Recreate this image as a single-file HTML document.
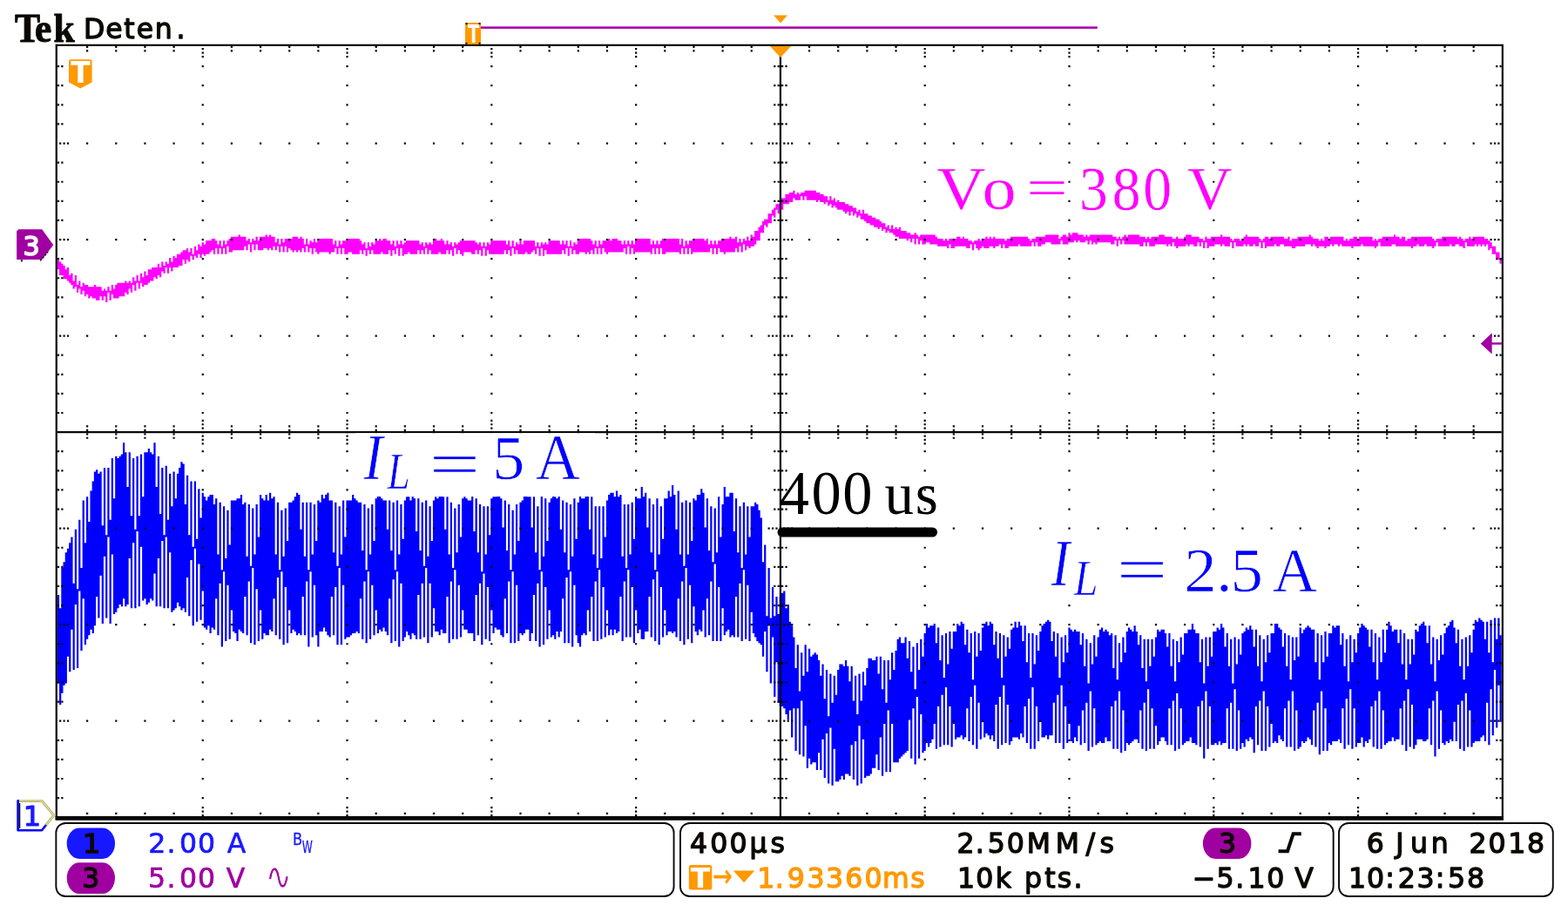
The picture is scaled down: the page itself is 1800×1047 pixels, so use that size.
<!DOCTYPE html>
<html lang="en"><head><meta charset="utf-8"><title>Tek oscilloscope capture</title>
<style>html,body{margin:0;padding:0;background:#fff;overflow:hidden}svg{display:block}text{white-space:pre}</style></head><body>
<svg width="1800" height="1047" viewBox="0 0 1800 1047">
<rect width="1800" height="1047" fill="#fff"/>
<g transform="translate(65.86,52.9) scale(2.2105)">
<path fill="#ff00ff" d="M0 111h1v1h1v1h1v1h1v2h1v-1h1v4h1v-1h1v4h1v-3h1v5h1v-2h1v3h1v-2h1v1h2v1h3v-1h1v1h3v2h1v-1h1v1h1v-2h1v2h1v-3h1v2h1v-2h1v-1h4v-1h1v1h1v-1h1v1h1v-3h1v2h1v-3h1v3h1v-4h1v2h1v-3h1v2h1v-3h2v-1h3v-2h1v2h1v-3h1v2h1v-2h1v1h1v-3h1v2h1v-3h1v1h1v-2h2v-1h1v-1h2v-1h1v2h1v-2h1v3h1v-4h1v2h1v-3h1v1h1v-2h1v1h1v-2h3v-1h2v1h1v2h1v-2h1v3h1v-3h1v2h1v-2h1v-1h1v-1h4v-1h1v1h3v2h1v-1h1v2h1v-2h1v1h1v-2h1v2h1v-2h3v-1h1v1h1v-1h1v1h2v3h1v-2h1v3h1v-3h1v2h1v-2h4v-1h3v1h1v-1h1v1h1v3h1v-3h1v3h1v-2h1v1h1v-2h1v2h1v-1h1v-1h7v3h1v-2h1v3h1v-3h1v2h1v-2h3v-1h6v1h1v2h1v-1h1v3h1v-3h1v2h1v-2h1v1h1v-2h2v-1h1v1h1v-1h2v1h2v2h1v-2h1v3h1v-3h1v2h1v-2h1v2h1v-1h1v-1h7v2h1v-1h1v2h1v-2h1v1h1v-1h1v1h1v-2h1v-1h1v1h2v-1h1v1h1v2h1v-2h1v2h1v-1h1v2h1v-2h1v1h1v-1h1v-1h8v1h1v1h1v-1h1v2h1v-2h1v2h1v-2h1v1h1v-2h8v2h1v-2h1v3h1v-3h1v3h1v-2h1v1h1v-2h1v2h1v-2h6v3h1v-2h1v2h1v-2h1v1h1v-1h1v1h1v-2h6v2h1v-2h1v2h1v-2h1v3h1v-3h1v3h1v-2h1v1h1v-2h1v-1h6v1h1v2h1v-2h1v3h1v-3h1v2h1v-2h3v-1h1v1h1v-1h3v1h2v2h1v-2h1v2h1v-2h1v2h1v-2h1v2h1v-3h8v3h1v-2h1v2h1v-2h1v2h1v-2h1v-1h1v1h1v-1h7v3h1v-3h1v4h1v-3h1v2h1v-2h2v-1h6v1h1v-1h1v3h1v-2h1v2h1v-2h1v2h1v-2h2v-1h4v-1h1v1h2v-1h1v3h1v-2h1v2h1v-2h1v1h1v-2h1v2h1v-3h1v1h1v-3h2v-2h1v-1h1v-2h1v-1h2v-3h2v-2h1v-1h1v-2h2v-2h1v-1h2v-2h2v-1h2v-1h1v2h1v-1h1v1h1v-1h2v-1h6v1h2v1h2v1h2v2h1v-2h1v2h1v-1h1v2h1v-1h1v1h3v1h2v1h2v1h2v2h1v-1h1v2h1v-2h1v2h2v1h2v1h2v1h2v1h1v1h2v2h1v-1h1v2h1v-2h1v2h1v-1h1v1h1v-1h1v2h3v1h2v1h2v-1h1v1h1v1h1v-1h8v1h1v1h3v1h1v-1h1v1h1v-1h4v-1h2v1h1v-1h1v1h2v1h2v1h1v-1h2v-1h1v1h1v-1h2v-1h1v1h1v-1h1v1h1v-1h1v1h5v1h1v-1h2v-1h9v1h1v1h1v-1h2v-1h5v-1h7v2h1v-1h1v-1h2v1h1v-2h1v1h1v-1h3v1h3v1h1v-1h1v1h1v-1h12v1h2v1h1v-1h1v1h1v-1h1v-1h1v1h1v-1h6v1h3v1h1v-1h1v1h1v-1h4v-1h3v1h4v1h2v-1h1v1h3v-1h1v-1h3v1h4v1h2v1h1v-2h1v1h2v-1h5v-1h1v1h4v1h1v1h1v-1h3v1h1v-1h1v-1h1v-1h1v1h6v1h1v1h1v-1h1v-1h2v1h1v-1h7v1h2v-1h1v2h1v-1h3v-1h6v-1h1v1h1v1h3v1h1v-1h1v1h1v-2h2v1h1v-1h7v2h1v-1h1v1h1v-1h2v-1h2v1h1v-1h7v2h1v-1h1v1h1v-1h2v-1h6v-1h1v1h2v1h1v-1h2v2h1v-1h2v-1h11v1h1v1h1v-1h3v-1h8v1h1v-1h1v1h1v1h1v-1h2v-1h1v1h1v-1h6v1h2v1h1v1h1v2h2v3h2v3h1V113h-1v-2h-1v-1h-1v-2h-2v-3h-1v1h-1v-3h-1v1h-1v-1h-1v1h-1v-1h-1v1h-1v-1h-1v1h-4v-2h-1v3h-1v-1h-2v-1h-2v1h-2v-1h-1v1h-6v-2h-1v2h-1v1h-1v-1h-3v-1h-1v1h-3v-1h-1v1h-2v1h-1v-1h-8v-1h-2v1h-6v-2h-1v2h-1v1h-1v-1h-6v-1h-1v1h-4v1h-1v-1h-5v-1h-1v1h-1v-1h-2v1h-1v-1h-1v1h-2v1h-1v-1h-3v1h-1v-1h-1v-1h-1v1h-1v-1h-3v1h-5v1h-2v-1h-4v-1h-2v1h-2v-1h-1v1h-4v1h-1v-3h-1v3h-1v-3h-1v2h-2v-1h-1v1h-2v-1h-1v1h-1v-1h-1v1h-4v-2h-1v3h-1v-3h-1v2h-3v-1h-1v1h-1v-1h-3v1h-3v1h-1v-3h-1v3h-1v-3h-1v2h-1v-2h-1v2h-2v-1h-2v1h-1v-1h-1v1h-4v1h-1v-1h-1v-2h-1v2h-1v-1h-1v1h-1v-1h-6v1h-3v-2h-1v2h-1v-2h-1v2h-2v-1h-8v-2h-1v2h-1v-2h-1v3h-1v-3h-1v2h-2v-1h-7v1h-1v-1h-1v1h-1v-2h-1v2h-1v-2h-1v1h-3v-1h-1v1h-1v-1h-1v1h-3v1h-3v-2h-1v2h-5v-1h-3v1h-2v1h-2v-2h-1v2h-1v-2h-1v2h-6v-1h-1v1h-5v1h-2v-2h-1v2h-1v-2h-1v1h-2v1h-1v-1h-2v1h-3v-1h-1v1h-1v1h-1v-1h-1v-2h-1v3h-1v-3h-1v2h-2v-1h-6v1h-2v-2h-1v2h-1v-1h-5v-1h-4v-1h-2v1h-2v-2h-1v2h-1v-3h-1v3h-1v-3h-1v2h-1v-2h-1v1h-1v-1h-4v-1h-2v-1h-1v-1h-2v-1h-1v1h-1v-2h-1v1h-1v-2h-1v1h-1v-1h-2v-1h-2v-1h-2v-1h-1v-1h-2v-2h-1v1h-1v-2h-1v1h-1v-2h-1v2h-1v-2h-1v1h-1v-1h-1v-1h-3v-1h-1v-1h-1v1h-1v-2h-1v1h-1v-2h-1v1h-1v-1h-2v-1h-1v1h-1v-1h-5v-2h-1v2h-1v-2h-1v2h-3v-1h-1v2h-2v1h-3v3h-1v-1h-1v3h-1v-2h-1v4h-1v-1h-1v4h-2v2h-1v-1h-1v4h-2v4h-2v2h-1v1h-2v1h-1v-1h-1v2h-1v-3h-1v4h-1v-3h-1v3h-1v-2h-1v2h-5v1h-1v-1h-2v-2h-1v3h-1v-3h-1v3h-1v-3h-1v2h-9v1h-1v-3h-1v3h-1v-3h-1v3h-1v-3h-1v3h-1v-1h-7v1h-2v-3h-1v3h-1v-3h-1v3h-1v-3h-1v3h-1v-1h-8v1h-1v-3h-1v3h-1v-4h-1v4h-1v-3h-1v2h-8v1h-1v-1h-1v-2h-1v3h-1v-3h-1v3h-1v-3h-1v3h-1v-2h-1v2h-1v-1h-1v1h-1v-1h-3v1h-2v-2h-1v2h-1v-3h-1v4h-1v-4h-1v3h-1v-2h-1v2h-8v-2h-1v3h-1v-4h-1v4h-1v-4h-1v3h-1v-2h-1v1h-1v1h-2v-1h-1v1h-4v-2h-1v2h-1v-3h-1v4h-1v-3h-1v2h-1v-2h-1v2h-8v-2h-1v3h-1v-4h-1v4h-1v-3h-1v2h-1v-2h-1v2h-2v-1h-4v2h-1v-1h-1v-2h-1v2h-1v-3h-1v4h-1v-3h-1v2h-1v-2h-1v2h-3v-1h-1v1h-4v-2h-1v2h-1v-3h-1v3h-1v-2h-1v2h-1v-2h-1v2h-4v-1h-1v1h-2v1h-1v-4h-1v4h-1v-4h-1v3h-1v-2h-1v3h-1v-3h-1v2h-3v-1h-1v1h-4v-2h-1v2h-1v-2h-1v3h-1v-3h-1v2h-1v-2h-1v2h-4v-1h-2v1h-2v-3h-1v3h-1v-3h-1v3h-1v-3h-1v2h-2v1h-1v-1h-5v1h-1v-1h-1v-2h-1v3h-1v-3h-1v2h-1v-3h-1v3h-1v-2h-1v2h-1v-1h-1v1h-1v-1h-1v1h-1v-1h-1v-1h-1v2h-1v-3h-1v3h-1v-3h-1v3h-1v-3h-1v2h-1v-2h-1v2h-1v-1h-1v1h-1v-1h-2v1h-3v-3h-1v3h-1v-3h-1v4h-1v-4h-1v3h-1v-2h-1v2h-6v1h-2v-3h-1v4h-1v-3h-1v3h-1v-3h-1v3h-1v-3h-1v3h-1v-2h-1v1h-1v1h-2v1h-1v-1h-1v2h-1v-2h-1v2h-1v-1h-1v2h-1v-2h-1v3h-1v-1h-1v2h-1v-2h-1v3h-2v1h-3v2h-1v-2h-1v3h-1v-3h-1v3h-1v-1h-1v3h-1v-1h-1v2h-1v-1h-1v2h-2v1h-1v1h-2v1h-1v-2h-1v3h-1v-3h-1v4h-1v-3h-1v4h-1v-2h-1v3h-1v-1h-1v2h-3v1h-3v-2h-1v3h-1v-4h-1v5h-1v-3h-1v2h-1v-2h-1v2h-2v-1h-2v-1h-1v1h-1v-2h-1v1h-1v-3h-1v2h-1v-3h-1v2h-1v-3h-1v1h-1v-2h-1v-1h-1v-1h-1v-1h-2v-2h-2v-3h-1z"/>
<path fill="#0000ff" d="M0 285h1v7h1v-21h1v-3h1v-5h1v-2h1v-3h1v-3h1v24h1v-28h1v31h1v-36h1v25h1v-35h1v22h1v-24h1v13h1v-16h1v-5h1v-5h1v-1h1v2h1v-1h1v28h1v-30h1v35h1v-35h1v27h1v-32h1v21h1v-22h1v1h1v-1h1v-1h1v-6h1v5h1v18h1v-18h1v33h1v-30h1v37h1v-38h1v31h1v-32h1v22h1v-23h2v-2h1v2h1v1h1v-6h1v23h1v-16h1v30h1v-24h1v35h1v-36h1v28h1v-24h1v17h1v-18h1v14h1v-13h1v-3h1v-3h1v1h1v21h1v-15h1v31h1v-28h1v34h1v-34h1v30h1v-26h1v15h1v-13h1v2h1v2h1v-2h1v-1h2v5h1v-3h1v29h1v-27h1v35h1v-33h1v27h1v-25h1v18h1v-23h3v-1h2v-2h1v5h1v-1h1v28h1v-27h1v32h1v-30h1v24h1v-26h1v17h1v-22h1v2h1v1h1v-3h1v3h1v-4h1v3h1v-1h1v30h1v-27h1v35h1v-31h1v24h1v-25h1v17h1v-20h2v-1h1v-2h1v-2h1v1h1v18h1v-14h1v28h1v-28h1v35h1v-35h1v27h1v-26h1v19h1v-21h1v1h1v-4h1v2h1v-2h1v-1h1v4h2v27h1v-26h1v33h1v-31h1v25h1v-28h1v19h1v-19h3v-3h1v2h1v1h1v1h2v25h1v-24h1v34h1v-32h1v24h1v-26h1v19h1v-22h1v-2h2v2h1v1h2v15h1v-15h1v26h1v-25h1v35h1v-36h1v28h1v-26h1v18h1v-20h1v-2h2v2h1v-3h1v2h1v17h1v-17h1v27h1v-25h1v33h1v-34h1v29h1v-26h1v18h1v-21h1v-2h1v1h1v-3h1v1h1v1h1v17h1v-17h1v30h1v-27h1v34h1v-31h1v23h1v-25h1v17h1v-20h1v-1h1v1h1v1h2v-3h1v19h1v-17h1v28h1v-25h1v35h1v-34h1v25h1v-25h1v15h1v-19h1v-1h2v-3h2v4h1v15h1v-14h1v26h1v-24h1v34h1v-31h1v23h1v-26h1v19h1v-20h1v-1h1v-4h2v2h2v16h1v-16h1v29h1v-24h1v33h1v-40h1v33h1v-30h1v22h1v-20h1v-2h1v-3h1v2h1v1h1v-2h1v18h1v-15h1v27h1v-26h1v35h1v-34h1v27h1v-30h1v21h1v-19h1v-4h1v2h2v-5h1v3h1v18h1v-17h1v30h1v-25h1v32h1v-32h1v27h1v-27h1v16h1v-19h1v-3h1v-1h2v2h1v-3h1v3h1v-1h1v32h1v-27h1v33h1v-33h1v26h1v-27h1v19h1v-22h1v1h2v-6h1v5h1v-2h1v18h1v-15h1v28h1v-25h1v34h1v-37h1v29h1v-25h1v17h1v-21h2v-4h1v3h1v-6h1v5h1v18h1v-20h1v33h1v-27h1v33h1v-34h1v28h1v-27h1v20h1v-22h1v1h1v-3h2v-3h1v2h1v18h1v-15h1v27h1v-23h1v29h1v-28h1v23h1v-29h1v21h1v-17h1v-9h1v5h2v-2h2v20h1v-17h1v28h1v-24h1v32h1v-34h1v27h1v-25h1v16h1v-16h2v-2h1v1h1v3h1v4h1v23h1v-9h1v37h1v-25h1v26h1v-16h1v15h1v-10h1v9h1v-9h1v-2h1v-1h1v9h1v-2h1v9h1v2h1v6h1v16h1v-12h1v24h1v-20h1v12h1v-16h1v14h1v-12h1v4h1v-1h1v-1h1v1h1v3h1v8h1v-6h1v18h1v-15h1v24h1v-22h1v15h1v-14h1v10h1v-13h1v-3h2v1h1v-3h1v3h1v8h1v-8h1v18h1v-13h1v20h1v-21h1v14h1v-15h1v7h1v-9h1v-5h2v1h2v-2h1v9h1v-9h1v17h1v-15h1v22h1v-22h1v10h1v-14h1v9h1v-10h1v-6h1v-1h1v3h2v-3h1v11h1v-9h1v16h1v-13h1v22h1v-24h1v14h1v-16h1v9h1v-12h1v-5h1v2h1v-1h2v-1h1v10h1v-8h1v17h1v-13h1v22h1v-23h1v16h1v-17h1v9h1v-9h2v-4h1v1h1v-2h1v1h1v11h1v-8h1v12h1v-10h1v24h1v-25h1v13h1v-12h1v9h1v-12h1v-2h1v-1h1v2h1v-2h1v1h1v11h1v-7h1v14h1v-13h1v23h1v-22h1v11h1v-10h1v6h1v-10h1v-1h1v-3h1v3h1v-3h1v2h1v8h1v-8h1v19h1v-15h1v23h1v-23h1v16h1v-15h1v8h1v-10h1v-3h1v-1h1v-1h1v-1h1v1h1v10h1v-5h1v13h1v-12h1v23h1v-21h1v13h1v-14h1v9h1v-13h1v1h1v1h1v-1h1v1h2v7h1v-6h1v17h1v-14h1v23h1v-21h1v11h1v-15h1v11h1v-10h1v-4h1v-1h1v2h1v-1h1v1h1v2h1v-1h1v18h1v-17h1v23h1v-19h1v10h1v-13h1v8h1v-11h1v-2h1v1h1v1h1v-3h1v3h1v7h1v-5h1v17h1v-15h1v22h1v-22h1v14h1v-14h1v9h1v-10h1v-4h1v1h1v-1h2v2h1v7h1v-7h1v17h1v-14h1v22h1v-21h1v11h1v-13h1v9h1v-11h2v-2h2v-3h1v3h1v2h2v15h1v-12h1v23h1v-24h1v15h1v-15h1v10h1v-13h2v-2h1v1h1v-3h1v2h1v10h1v-7h1v17h1v-14h1v23h1v-24h1v14h1v-13h1v8h1v-11h1v-1h1v-2h1v1h1v-2h1v2h1v9h1v-9h1v19h1v-16h1v24h1v-22h1v12h1v-14h1v9h1v-10h2v-5h2v2h1v1h1v9h1v-7h1v17h1v-16h1v23h1v-22h1v12h1v-12h1v10h1v-15h1v3h1v-2h1v-1h1v-1h1v1h1v1h2v17h1v-15h1v24h1v-23h1v14h1v-16h1v13h1v-12h2v-4h1v1h1v-1h2v10h1v-6h1v17h1v-14h1v22h1v-24h1v14h1v-12h1v7h1v-10h1v-3h1v-2h1v1h1v1h1v1h1v9h1v-9h1v17h1v-15h1v24h1v-22h1v13h1v-17h1v12h1v-12h1v-4h1v2h1v3h1v-1h2v7h1v-7h1v18h1v-16h1v24h1v-21h1v13h1v-13h1v8h1v-13h1v1h1v-3h1v-1h1v-1h1v2h1v9h1v-9h1v20h1v-14h1v23h1v-22h1v11h1v-13h1v10h1v-11h1v-3h1v-1h1v-2h1v-1h1v4h1v8h1v-7h1v19h1v-14h1v21h1v-22h1v15h1v-16h1v9h1v-12h1v-5h1v1h1v-2h1v1h1v1h1v9h1v-9h1v16h1v-17h1v22h1v-23h1v11h1v-11h1v9h1V351h-1v-19h-1v22h-1v-30h-1v34h-1v-24h-1v29h-1v-22h-1v20h-1v-3h-1v1h-1v2h-3v1h-1v2h-1v-19h-1v19h-1v-28h-1v30h-1v-26h-1v25h-1v-23h-1v19h-1v-10h-1v10h-1v-1h-1v2h-1v-1h-1v2h-1v-1h-1v-17h-1v20h-1v-30h-1v34h-1v-29h-1v23h-1v-19h-1v16h-1v1h-2v-1h-3v3h-1v2h-1v-23h-1v22h-1v-30h-1v32h-1v-26h-1v23h-1v-19h-1v16h-2v1h-1v-2h-1v2h-2v1h-1v1h-1v-18h-1v20h-1v-30h-1v30h-1v-25h-1v24h-1v-21h-1v17h-1v2h-1v-1h-1v3h-1v-5h-1v3h-2v2h-1v-20h-1v21h-1v-31h-1v29h-1v-24h-1v26h-1v-21h-1v18h-1v-2h-1v1h-3v2h-1v-1h-1v4h-1v-22h-1v22h-1v-31h-1v33h-1v-27h-1v23h-1v-19h-1v18h-1v-3h-1v-1h-1v2h-1v1h-1v-1h-1v3h-1v1h-1v-20h-1v21h-1v-31h-1v29h-1v-24h-1v24h-1v-20h-1v17h-1v-1h-1v-2h-1v4h-1v-1h-1v1h-1v-10h-1v12h-1v-21h-1v23h-1v-31h-1v31h-1v-26h-1v23h-1v-20h-1v24h-1v-7h-1v-1h-1v2h-1v-1h-1v4h-1v-2h-1v3h-1v-20h-1v21h-1v-32h-1v31h-1v-24h-1v24h-1v-21h-1v18h-2v1h-1v-2h-1v2h-1v-1h-1v1h-2v-20h-1v22h-1v-30h-1v35h-1v-30h-1v24h-1v-21h-1v20h-1v-1h-2v-3h-1v2h-2v1h-1v1h-1v-19h-1v21h-1v-29h-1v30h-1v-26h-1v23h-1v-19h-1v19h-1v-2h-1v-2h-2v2h-1v2h-1v-10h-1v12h-1v-21h-1v21h-1v-31h-1v32h-1v-25h-1v24h-1v-20h-1v17h-1v-2h-2v1h-1v1h-1v1h-1v-1h-1v4h-1v-21h-1v22h-1v-32h-1v30h-1v-25h-1v25h-1v-22h-1v18h-2v-2h-1v3h-2v-1h-1v1h-1v1h-1v-19h-1v20h-1v-29h-1v31h-1v-25h-1v21h-1v-17h-1v18h-1v-10h-1v8h-1v-2h-1v3h-1v-1h-1v-9h-1v10h-1v-19h-1v22h-1v-33h-1v30h-1v-25h-1v25h-1v-21h-1v17h-2v2h-1v-2h-1v1h-2v-8h-1v10h-1v-18h-1v22h-1v-32h-1v32h-1v-26h-1v23h-1v-19h-1v16h-1v-2h-1v3h-1v-1h-3v2h-1v2h-1v-21h-1v20h-1v-30h-1v31h-1v-25h-1v27h-1v-23h-1v19h-1v-3h-1v2h-1v-2h-1v-1h-1v2h-1v-8h-1v9h-1v-19h-1v24h-1v-33h-1v31h-1v-25h-1v23h-1v-17h-1v15h-1v1h-1v-2h-1v1h-2v1h-1v-8h-1v12h-1v-21h-1v20h-1v-30h-1v30h-1v-26h-1v27h-1v-21h-1v22h-1v-13h-1v8h-1v2h-1v2h-1v-2h-1v4h-1v1h-1v-20h-1v23h-1v-32h-1v35h-1v-29h-1v26h-1v-20h-1v16h-1v1h-1v1h-1v1h-1v1h-1v2h-3v-20h-1v25h-1v-32h-1v32h-1v-25h-1v27h-1v-20h-1v17h-1v-8h-1v7h-2v3h-1v1h-2v1h-1v-20h-1v23h-1v-30h-1v31h-1v-23h-1v20h-1v-18h-1v16h-1v-1h-2v3h-1v-2h-1v2h-1v1h-2v-17h-1v19h-1v-30h-1v29h-1v-26h-1v23h-1v-20h-1v16h-1v-9h-1v9h-1v-4h-2v1h-1v-3h-1v5h-1v-22h-1v16h-1v-29h-1v28h-1v-24h-1v22h-1v-22h-1v15h-1v-14h-1v5h-1v-3h-1v-3h-1v-1h-2v-2h-1v-21h-1v18h-1v-31h-1v24h-1v-30h-1v24h-1v-21h-1v13h-1v-6h-1v-1h-1v-1h-1v-2h-1v-2h-1v-11h-1v15h-1v-29h-1v28h-1v-36h-1v37h-1v-30h-1v28h-1v-21h-1v21h-1v-1h-1v1h-1v-4h-1v1h-1v2h-1v-14h-1v17h-1v-28h-1v28h-1v-40h-1v40h-1v-31h-1v28h-1v-19h-1v20h-1v-14h-1v11h-1v-1h-1v3h-1v-2h-1v-13h-1v19h-1v-30h-1v28h-1v-37h-1v40h-1v-33h-1v31h-1v-22h-1v20h-1v-3h-1v1h-1v-1h-2v2h-1v-13h-1v14h-1v-26h-1v30h-1v-38h-1v36h-1v-32h-1v30h-1v-21h-1v18h-2v4h-2v-5h-1v2h-1v-12h-1v17h-1v-29h-1v26h-1v-35h-1v35h-1v-29h-1v31h-1v-23h-1v18h-1v1h-1v-2h-1v3h-1v-3h-1v3h-1v-13h-1v14h-1v-26h-1v27h-1v-36h-1v37h-1v-31h-1v31h-1v-23h-1v18h-1v-11h-1v13h-1v-1h-1v1h-1v6h-1v-2h-1v-4h-1v-26h-1v32h-1v-39h-1v37h-1v-34h-1v34h-1v-23h-1v17h-1v3h-1v-3h-1v4h-1v-2h-1v1h-1v-14h-1v15h-1v-27h-1v30h-1v-38h-1v39h-1v-33h-1v30h-1v-24h-1v20h-1v4h-1v-6h-2v2h-1v1h-1v-1h-1v4h-1v-29h-1v30h-1v-37h-1v37h-1v-32h-1v27h-1v-18h-1v20h-1v-1h-1v-3h-2v-1h-1v3h-1v-12h-1v16h-1v-28h-1v27h-1v-34h-1v37h-1v-32h-1v27h-1v-21h-1v24h-1v-4h-3v-2h-2v-10h-1v14h-1v-27h-1v28h-1v-36h-1v36h-1v-30h-1v32h-1v-24h-1v19h-2v-2h-1v3h-1v-2h-2v-12h-1v15h-1v-28h-1v31h-1v-39h-1v36h-1v-28h-1v29h-1v-23h-1v23h-1v-2h-1v-1h-1v3h-1v-2h-1v-2h-1v3h-1v2h-1v-30h-1v33h-1v-39h-1v36h-1v-32h-1v33h-1v-23h-1v19h-1v-2h-1v-2h-1v2h-1v-1h-1v2h-1v-12h-1v13h-1v-26h-1v28h-1v-35h-1v37h-1v-32h-1v30h-1v-21h-1v18h-1v-1h-1v1h-2v1h-1v1h-2v1h-1v-28h-1v31h-1v-40h-1v40h-1v-30h-1v25h-1v-20h-1v21h-1v-1h-1v-2h-1v-2h-1v2h-2v8h-1v-6h-1v-26h-1v27h-1v-34h-1v39h-1v-34h-1v28h-1v-20h-1v20h-1v-1h-1v1h-1v-2h-1v-1h-1v2h-1v-12h-1v17h-1v-29h-1v30h-1v-38h-1v35h-1v-32h-1v30h-1v-19h-1v17h-1v-1h-1v3h-2v-1h-1v3h-1v-15h-1v16h-1v-27h-1v29h-1v-40h-1v39h-1v-32h-1v28h-1v-20h-1v19h-1v-1h-1v-1h-1v6h-1v-4h-1v-1h-1v-11h-1v15h-1v-28h-1v29h-1v-36h-1v39h-1v-33h-1v27h-1v-19h-1v16h-1v-1h-1v3h-1v-4h-1v2h-1v-1h-1v-19h-1v15h-1v-29h-1v30h-1v-38h-1v40h-1v-34h-1v29h-1v-20h-1v18h-1v-2h-1v1h-1v-2h-1v-2h-1v3h-1v1h-1v1h-1v-31h-1v29h-1v-37h-1v37h-1v-35h-1v34h-1v-25h-1v25h-1v-17h-1v14h-1v-1h-1v2h-1v1h-1v-3h-1v1h-1v-28h-1v31h-1v-39h-1v40h-1v-34h-1v34h-1v-26h-1v24h-1v1h-1v-4h-1v4h-1v-1h-1v2h-1v2h-1v1h-1v-31h-1v36h-1v-45h-1v42h-1v-32h-1v35h-1v-25h-1v22h-1v-11h-1v15h-1v4h-1v-2h-1v3h-1v2h-1v3h-1v-24h-1v27h-1v-31h-1v40h-1v-33h-1v34h-1v-21h-1v22h-1v-8h-1v14h-1v1h-1v4h-1v6h-1v-11h-1z"/>
<path fill="#080808" d="M-1 -1h752v403h-752zM0 0v400h750v-400z" fill-rule="evenodd"/>
<rect x="-1" y="400" width="752" height="2" fill="#080808"/>
<rect x="375" y="0" width="1" height="400" fill="#080808"/>
<rect x="0" y="200" width="750" height="1" fill="#080808"/>
<path fill="#080808" d="M0 10h1v1h-1zM0 20h1v1h-1zM0 30h1v1h-1zM0 40h1v1h-1zM0 60h1v1h-1zM0 70h1v1h-1zM0 80h1v1h-1zM0 90h1v1h-1zM0 110h1v1h-1zM0 120h1v1h-1zM0 130h1v1h-1zM0 140h1v1h-1zM0 160h1v1h-1zM0 170h1v1h-1zM0 180h1v1h-1zM0 190h1v1h-1zM0 210h1v1h-1zM0 220h1v1h-1zM0 230h1v1h-1zM0 240h1v1h-1zM0 260h1v1h-1zM0 270h1v1h-1zM0 280h1v1h-1zM0 290h1v1h-1zM0 310h1v1h-1zM0 320h1v1h-1zM0 330h1v1h-1zM0 340h1v1h-1zM0 360h1v1h-1zM0 370h1v1h-1zM0 380h1v1h-1zM0 390h1v1h-1zM1 50h1v1h-1zM1 100h1v1h-1zM1 150h1v1h-1zM1 250h1v1h-1zM1 300h1v1h-1zM1 350h1v1h-1zM2 10h1v1h-1zM2 20h1v1h-1zM2 30h1v1h-1zM2 40h1v1h-1zM2 60h1v1h-1zM2 70h1v1h-1zM2 80h1v1h-1zM2 90h1v1h-1zM2 110h1v1h-1zM2 120h1v1h-1zM2 130h1v1h-1zM2 140h1v1h-1zM2 160h1v1h-1zM2 170h1v1h-1zM2 180h1v1h-1zM2 190h1v1h-1zM2 210h1v1h-1zM2 220h1v1h-1zM2 230h1v1h-1zM2 240h1v1h-1zM2 260h1v1h-1zM2 270h1v1h-1zM2 280h1v1h-1zM2 290h1v1h-1zM2 310h1v1h-1zM2 320h1v1h-1zM2 330h1v1h-1zM2 340h1v1h-1zM2 360h1v1h-1zM2 370h1v1h-1zM2 380h1v1h-1zM2 390h1v1h-1zM3 50h1v1h-1zM3 100h1v1h-1zM3 150h1v1h-1zM3 250h1v1h-1zM3 300h1v1h-1zM3 350h1v1h-1zM5 50h1v1h-1zM5 100h1v1h-1zM5 150h1v1h-1zM5 250h1v1h-1zM5 300h1v1h-1zM5 350h1v1h-1zM15 0h1v1h-1zM15 2h1v1h-1zM15 50h1v1h-1zM15 100h1v1h-1zM15 150h1v1h-1zM15 197h1v1h-1zM15 199h1v1h-1zM15 201h1v1h-1zM15 203h1v1h-1zM15 250h1v1h-1zM15 300h1v1h-1zM15 350h1v1h-1zM15 398h1v1h-1zM15 400h1v1h-1zM30 0h1v1h-1zM30 2h1v1h-1zM30 50h1v1h-1zM30 100h1v1h-1zM30 150h1v1h-1zM30 197h1v1h-1zM30 199h1v1h-1zM30 201h1v1h-1zM30 203h1v1h-1zM30 250h1v1h-1zM30 300h1v1h-1zM30 350h1v1h-1zM30 398h1v1h-1zM30 400h1v1h-1zM45 0h1v1h-1zM45 2h1v1h-1zM45 50h1v1h-1zM45 100h1v1h-1zM45 150h1v1h-1zM45 197h1v1h-1zM45 199h1v1h-1zM45 201h1v1h-1zM45 203h1v1h-1zM45 250h1v1h-1zM45 300h1v1h-1zM45 350h1v1h-1zM45 398h1v1h-1zM45 400h1v1h-1zM60 0h1v1h-1zM60 2h1v1h-1zM60 50h1v1h-1zM60 100h1v1h-1zM60 150h1v1h-1zM60 197h1v1h-1zM60 199h1v1h-1zM60 201h1v1h-1zM60 203h1v1h-1zM60 250h1v1h-1zM60 300h1v1h-1zM60 350h1v1h-1zM60 398h1v1h-1zM60 400h1v1h-1zM75 1h1v1h-1zM75 3h1v1h-1zM75 5h1v1h-1zM75 10h1v1h-1zM75 20h1v1h-1zM75 30h1v1h-1zM75 40h1v1h-1zM75 50h1v1h-1zM75 60h1v1h-1zM75 70h1v1h-1zM75 80h1v1h-1zM75 90h1v1h-1zM75 100h1v1h-1zM75 110h1v1h-1zM75 120h1v1h-1zM75 130h1v1h-1zM75 140h1v1h-1zM75 150h1v1h-1zM75 160h1v1h-1zM75 170h1v1h-1zM75 180h1v1h-1zM75 190h1v1h-1zM75 194h1v1h-1zM75 196h1v1h-1zM75 198h1v1h-1zM75 200h1v1h-1zM75 202h1v1h-1zM75 204h1v1h-1zM75 206h1v1h-1zM75 210h1v1h-1zM75 220h1v1h-1zM75 230h1v1h-1zM75 240h1v1h-1zM75 250h1v1h-1zM75 260h1v1h-1zM75 270h1v1h-1zM75 280h1v1h-1zM75 290h1v1h-1zM75 300h1v1h-1zM75 310h1v1h-1zM75 320h1v1h-1zM75 330h1v1h-1zM75 340h1v1h-1zM75 350h1v1h-1zM75 360h1v1h-1zM75 370h1v1h-1zM75 380h1v1h-1zM75 390h1v1h-1zM75 395h1v1h-1zM75 397h1v1h-1zM75 399h1v1h-1zM90 0h1v1h-1zM90 2h1v1h-1zM90 50h1v1h-1zM90 100h1v1h-1zM90 150h1v1h-1zM90 197h1v1h-1zM90 199h1v1h-1zM90 201h1v1h-1zM90 203h1v1h-1zM90 250h1v1h-1zM90 300h1v1h-1zM90 350h1v1h-1zM90 398h1v1h-1zM90 400h1v1h-1zM105 0h1v1h-1zM105 2h1v1h-1zM105 50h1v1h-1zM105 100h1v1h-1zM105 150h1v1h-1zM105 197h1v1h-1zM105 199h1v1h-1zM105 201h1v1h-1zM105 203h1v1h-1zM105 250h1v1h-1zM105 300h1v1h-1zM105 350h1v1h-1zM105 398h1v1h-1zM105 400h1v1h-1zM120 0h1v1h-1zM120 2h1v1h-1zM120 50h1v1h-1zM120 100h1v1h-1zM120 150h1v1h-1zM120 197h1v1h-1zM120 199h1v1h-1zM120 201h1v1h-1zM120 203h1v1h-1zM120 250h1v1h-1zM120 300h1v1h-1zM120 350h1v1h-1zM120 398h1v1h-1zM120 400h1v1h-1zM135 0h1v1h-1zM135 2h1v1h-1zM135 50h1v1h-1zM135 100h1v1h-1zM135 150h1v1h-1zM135 197h1v1h-1zM135 199h1v1h-1zM135 201h1v1h-1zM135 203h1v1h-1zM135 250h1v1h-1zM135 300h1v1h-1zM135 350h1v1h-1zM135 398h1v1h-1zM135 400h1v1h-1zM150 1h1v1h-1zM150 3h1v1h-1zM150 5h1v1h-1zM150 10h1v1h-1zM150 20h1v1h-1zM150 30h1v1h-1zM150 40h1v1h-1zM150 50h1v1h-1zM150 60h1v1h-1zM150 70h1v1h-1zM150 80h1v1h-1zM150 90h1v1h-1zM150 100h1v1h-1zM150 110h1v1h-1zM150 120h1v1h-1zM150 130h1v1h-1zM150 140h1v1h-1zM150 150h1v1h-1zM150 160h1v1h-1zM150 170h1v1h-1zM150 180h1v1h-1zM150 190h1v1h-1zM150 194h1v1h-1zM150 196h1v1h-1zM150 198h1v1h-1zM150 200h1v1h-1zM150 202h1v1h-1zM150 204h1v1h-1zM150 206h1v1h-1zM150 210h1v1h-1zM150 220h1v1h-1zM150 230h1v1h-1zM150 240h1v1h-1zM150 250h1v1h-1zM150 260h1v1h-1zM150 270h1v1h-1zM150 280h1v1h-1zM150 290h1v1h-1zM150 300h1v1h-1zM150 310h1v1h-1zM150 320h1v1h-1zM150 330h1v1h-1zM150 340h1v1h-1zM150 350h1v1h-1zM150 360h1v1h-1zM150 370h1v1h-1zM150 380h1v1h-1zM150 390h1v1h-1zM150 395h1v1h-1zM150 397h1v1h-1zM150 399h1v1h-1zM165 0h1v1h-1zM165 2h1v1h-1zM165 50h1v1h-1zM165 100h1v1h-1zM165 150h1v1h-1zM165 197h1v1h-1zM165 199h1v1h-1zM165 201h1v1h-1zM165 203h1v1h-1zM165 250h1v1h-1zM165 300h1v1h-1zM165 350h1v1h-1zM165 398h1v1h-1zM165 400h1v1h-1zM180 0h1v1h-1zM180 2h1v1h-1zM180 50h1v1h-1zM180 100h1v1h-1zM180 150h1v1h-1zM180 197h1v1h-1zM180 199h1v1h-1zM180 201h1v1h-1zM180 203h1v1h-1zM180 250h1v1h-1zM180 300h1v1h-1zM180 350h1v1h-1zM180 398h1v1h-1zM180 400h1v1h-1zM195 0h1v1h-1zM195 2h1v1h-1zM195 50h1v1h-1zM195 100h1v1h-1zM195 150h1v1h-1zM195 197h1v1h-1zM195 199h1v1h-1zM195 201h1v1h-1zM195 203h1v1h-1zM195 250h1v1h-1zM195 300h1v1h-1zM195 350h1v1h-1zM195 398h1v1h-1zM195 400h1v1h-1zM210 0h1v1h-1zM210 2h1v1h-1zM210 50h1v1h-1zM210 100h1v1h-1zM210 150h1v1h-1zM210 197h1v1h-1zM210 199h1v1h-1zM210 201h1v1h-1zM210 203h1v1h-1zM210 250h1v1h-1zM210 300h1v1h-1zM210 350h1v1h-1zM210 398h1v1h-1zM210 400h1v1h-1zM225 1h1v1h-1zM225 3h1v1h-1zM225 5h1v1h-1zM225 10h1v1h-1zM225 20h1v1h-1zM225 30h1v1h-1zM225 40h1v1h-1zM225 50h1v1h-1zM225 60h1v1h-1zM225 70h1v1h-1zM225 80h1v1h-1zM225 90h1v1h-1zM225 100h1v1h-1zM225 110h1v1h-1zM225 120h1v1h-1zM225 130h1v1h-1zM225 140h1v1h-1zM225 150h1v1h-1zM225 160h1v1h-1zM225 170h1v1h-1zM225 180h1v1h-1zM225 190h1v1h-1zM225 194h1v1h-1zM225 196h1v1h-1zM225 198h1v1h-1zM225 200h1v1h-1zM225 202h1v1h-1zM225 204h1v1h-1zM225 206h1v1h-1zM225 210h1v1h-1zM225 220h1v1h-1zM225 230h1v1h-1zM225 240h1v1h-1zM225 250h1v1h-1zM225 260h1v1h-1zM225 270h1v1h-1zM225 280h1v1h-1zM225 290h1v1h-1zM225 300h1v1h-1zM225 310h1v1h-1zM225 320h1v1h-1zM225 330h1v1h-1zM225 340h1v1h-1zM225 350h1v1h-1zM225 360h1v1h-1zM225 370h1v1h-1zM225 380h1v1h-1zM225 390h1v1h-1zM225 395h1v1h-1zM225 397h1v1h-1zM225 399h1v1h-1zM240 0h1v1h-1zM240 2h1v1h-1zM240 50h1v1h-1zM240 100h1v1h-1zM240 150h1v1h-1zM240 197h1v1h-1zM240 199h1v1h-1zM240 201h1v1h-1zM240 203h1v1h-1zM240 250h1v1h-1zM240 300h1v1h-1zM240 350h1v1h-1zM240 398h1v1h-1zM240 400h1v1h-1zM255 0h1v1h-1zM255 2h1v1h-1zM255 50h1v1h-1zM255 100h1v1h-1zM255 150h1v1h-1zM255 197h1v1h-1zM255 199h1v1h-1zM255 201h1v1h-1zM255 203h1v1h-1zM255 250h1v1h-1zM255 300h1v1h-1zM255 350h1v1h-1zM255 398h1v1h-1zM255 400h1v1h-1zM270 0h1v1h-1zM270 2h1v1h-1zM270 50h1v1h-1zM270 100h1v1h-1zM270 150h1v1h-1zM270 197h1v1h-1zM270 199h1v1h-1zM270 201h1v1h-1zM270 203h1v1h-1zM270 250h1v1h-1zM270 300h1v1h-1zM270 350h1v1h-1zM270 398h1v1h-1zM270 400h1v1h-1zM285 0h1v1h-1zM285 2h1v1h-1zM285 50h1v1h-1zM285 100h1v1h-1zM285 150h1v1h-1zM285 197h1v1h-1zM285 199h1v1h-1zM285 201h1v1h-1zM285 203h1v1h-1zM285 250h1v1h-1zM285 300h1v1h-1zM285 350h1v1h-1zM285 398h1v1h-1zM285 400h1v1h-1zM300 1h1v1h-1zM300 3h1v1h-1zM300 5h1v1h-1zM300 10h1v1h-1zM300 20h1v1h-1zM300 30h1v1h-1zM300 40h1v1h-1zM300 50h1v1h-1zM300 60h1v1h-1zM300 70h1v1h-1zM300 80h1v1h-1zM300 90h1v1h-1zM300 100h1v1h-1zM300 110h1v1h-1zM300 120h1v1h-1zM300 130h1v1h-1zM300 140h1v1h-1zM300 150h1v1h-1zM300 160h1v1h-1zM300 170h1v1h-1zM300 180h1v1h-1zM300 190h1v1h-1zM300 194h1v1h-1zM300 196h1v1h-1zM300 198h1v1h-1zM300 200h1v1h-1zM300 202h1v1h-1zM300 204h1v1h-1zM300 206h1v1h-1zM300 210h1v1h-1zM300 220h1v1h-1zM300 230h1v1h-1zM300 240h1v1h-1zM300 250h1v1h-1zM300 260h1v1h-1zM300 270h1v1h-1zM300 280h1v1h-1zM300 290h1v1h-1zM300 300h1v1h-1zM300 310h1v1h-1zM300 320h1v1h-1zM300 330h1v1h-1zM300 340h1v1h-1zM300 350h1v1h-1zM300 360h1v1h-1zM300 370h1v1h-1zM300 380h1v1h-1zM300 390h1v1h-1zM300 395h1v1h-1zM300 397h1v1h-1zM300 399h1v1h-1zM315 0h1v1h-1zM315 2h1v1h-1zM315 50h1v1h-1zM315 100h1v1h-1zM315 150h1v1h-1zM315 197h1v1h-1zM315 199h1v1h-1zM315 201h1v1h-1zM315 203h1v1h-1zM315 250h1v1h-1zM315 300h1v1h-1zM315 350h1v1h-1zM315 398h1v1h-1zM315 400h1v1h-1zM330 0h1v1h-1zM330 2h1v1h-1zM330 50h1v1h-1zM330 100h1v1h-1zM330 150h1v1h-1zM330 197h1v1h-1zM330 199h1v1h-1zM330 201h1v1h-1zM330 203h1v1h-1zM330 250h1v1h-1zM330 300h1v1h-1zM330 350h1v1h-1zM330 398h1v1h-1zM330 400h1v1h-1zM345 0h1v1h-1zM345 2h1v1h-1zM345 50h1v1h-1zM345 100h1v1h-1zM345 150h1v1h-1zM345 197h1v1h-1zM345 199h1v1h-1zM345 201h1v1h-1zM345 203h1v1h-1zM345 250h1v1h-1zM345 300h1v1h-1zM345 350h1v1h-1zM345 398h1v1h-1zM345 400h1v1h-1zM360 0h1v1h-1zM360 2h1v1h-1zM360 50h1v1h-1zM360 100h1v1h-1zM360 150h1v1h-1zM360 197h1v1h-1zM360 199h1v1h-1zM360 201h1v1h-1zM360 203h1v1h-1zM360 250h1v1h-1zM360 300h1v1h-1zM360 350h1v1h-1zM360 398h1v1h-1zM360 400h1v1h-1zM369 50h1v1h-1zM369 100h1v1h-1zM369 150h1v1h-1zM369 250h1v1h-1zM369 300h1v1h-1zM369 350h1v1h-1zM371 50h1v1h-1zM371 100h1v1h-1zM371 150h1v1h-1zM371 250h1v1h-1zM371 300h1v1h-1zM371 350h1v1h-1zM372 10h1v1h-1zM372 20h1v1h-1zM372 30h1v1h-1zM372 40h1v1h-1zM372 60h1v1h-1zM372 70h1v1h-1zM372 80h1v1h-1zM372 90h1v1h-1zM372 110h1v1h-1zM372 120h1v1h-1zM372 130h1v1h-1zM372 140h1v1h-1zM372 160h1v1h-1zM372 170h1v1h-1zM372 180h1v1h-1zM372 190h1v1h-1zM372 210h1v1h-1zM372 220h1v1h-1zM372 230h1v1h-1zM372 240h1v1h-1zM372 260h1v1h-1zM372 270h1v1h-1zM372 280h1v1h-1zM372 290h1v1h-1zM372 310h1v1h-1zM372 320h1v1h-1zM372 330h1v1h-1zM372 340h1v1h-1zM372 360h1v1h-1zM372 370h1v1h-1zM372 380h1v1h-1zM372 390h1v1h-1zM373 50h1v1h-1zM373 100h1v1h-1zM373 150h1v1h-1zM373 250h1v1h-1zM373 300h1v1h-1zM373 350h1v1h-1zM374 10h1v1h-1zM374 20h1v1h-1zM374 30h1v1h-1zM374 40h1v1h-1zM374 60h1v1h-1zM374 70h1v1h-1zM374 80h1v1h-1zM374 90h1v1h-1zM374 110h1v1h-1zM374 120h1v1h-1zM374 130h1v1h-1zM374 140h1v1h-1zM374 160h1v1h-1zM374 170h1v1h-1zM374 180h1v1h-1zM374 190h1v1h-1zM374 210h1v1h-1zM374 220h1v1h-1zM374 230h1v1h-1zM374 240h1v1h-1zM374 260h1v1h-1zM374 270h1v1h-1zM374 280h1v1h-1zM374 290h1v1h-1zM374 310h1v1h-1zM374 320h1v1h-1zM374 330h1v1h-1zM374 340h1v1h-1zM374 360h1v1h-1zM374 370h1v1h-1zM374 380h1v1h-1zM374 390h1v1h-1zM375 50h1v1h-1zM375 100h1v1h-1zM375 150h1v1h-1zM375 250h1v1h-1zM375 300h1v1h-1zM375 350h1v1h-1zM376 10h1v1h-1zM376 20h1v1h-1zM376 30h1v1h-1zM376 40h1v1h-1zM376 60h1v1h-1zM376 70h1v1h-1zM376 80h1v1h-1zM376 90h1v1h-1zM376 110h1v1h-1zM376 120h1v1h-1zM376 130h1v1h-1zM376 140h1v1h-1zM376 160h1v1h-1zM376 170h1v1h-1zM376 180h1v1h-1zM376 190h1v1h-1zM376 210h1v1h-1zM376 220h1v1h-1zM376 230h1v1h-1zM376 240h1v1h-1zM376 260h1v1h-1zM376 270h1v1h-1zM376 280h1v1h-1zM376 290h1v1h-1zM376 310h1v1h-1zM376 320h1v1h-1zM376 330h1v1h-1zM376 340h1v1h-1zM376 360h1v1h-1zM376 370h1v1h-1zM376 380h1v1h-1zM376 390h1v1h-1zM377 50h1v1h-1zM377 100h1v1h-1zM377 150h1v1h-1zM377 250h1v1h-1zM377 300h1v1h-1zM377 350h1v1h-1zM378 10h1v1h-1zM378 20h1v1h-1zM378 30h1v1h-1zM378 40h1v1h-1zM378 60h1v1h-1zM378 70h1v1h-1zM378 80h1v1h-1zM378 90h1v1h-1zM378 110h1v1h-1zM378 120h1v1h-1zM378 130h1v1h-1zM378 140h1v1h-1zM378 160h1v1h-1zM378 170h1v1h-1zM378 180h1v1h-1zM378 190h1v1h-1zM378 210h1v1h-1zM378 220h1v1h-1zM378 230h1v1h-1zM378 240h1v1h-1zM378 260h1v1h-1zM378 270h1v1h-1zM378 280h1v1h-1zM378 290h1v1h-1zM378 310h1v1h-1zM378 320h1v1h-1zM378 330h1v1h-1zM378 340h1v1h-1zM378 360h1v1h-1zM378 370h1v1h-1zM378 380h1v1h-1zM378 390h1v1h-1zM379 50h1v1h-1zM379 100h1v1h-1zM379 150h1v1h-1zM379 250h1v1h-1zM379 300h1v1h-1zM379 350h1v1h-1zM381 50h1v1h-1zM381 100h1v1h-1zM381 150h1v1h-1zM381 250h1v1h-1zM381 300h1v1h-1zM381 350h1v1h-1zM390 0h1v1h-1zM390 2h1v1h-1zM390 50h1v1h-1zM390 100h1v1h-1zM390 150h1v1h-1zM390 197h1v1h-1zM390 199h1v1h-1zM390 201h1v1h-1zM390 203h1v1h-1zM390 250h1v1h-1zM390 300h1v1h-1zM390 350h1v1h-1zM390 398h1v1h-1zM390 400h1v1h-1zM405 0h1v1h-1zM405 2h1v1h-1zM405 50h1v1h-1zM405 100h1v1h-1zM405 150h1v1h-1zM405 197h1v1h-1zM405 199h1v1h-1zM405 201h1v1h-1zM405 203h1v1h-1zM405 250h1v1h-1zM405 300h1v1h-1zM405 350h1v1h-1zM405 398h1v1h-1zM405 400h1v1h-1zM420 0h1v1h-1zM420 2h1v1h-1zM420 50h1v1h-1zM420 100h1v1h-1zM420 150h1v1h-1zM420 197h1v1h-1zM420 199h1v1h-1zM420 201h1v1h-1zM420 203h1v1h-1zM420 250h1v1h-1zM420 300h1v1h-1zM420 350h1v1h-1zM420 398h1v1h-1zM420 400h1v1h-1zM435 0h1v1h-1zM435 2h1v1h-1zM435 50h1v1h-1zM435 100h1v1h-1zM435 150h1v1h-1zM435 197h1v1h-1zM435 199h1v1h-1zM435 201h1v1h-1zM435 203h1v1h-1zM435 250h1v1h-1zM435 300h1v1h-1zM435 350h1v1h-1zM435 398h1v1h-1zM435 400h1v1h-1zM450 1h1v1h-1zM450 3h1v1h-1zM450 5h1v1h-1zM450 10h1v1h-1zM450 20h1v1h-1zM450 30h1v1h-1zM450 40h1v1h-1zM450 50h1v1h-1zM450 60h1v1h-1zM450 70h1v1h-1zM450 80h1v1h-1zM450 90h1v1h-1zM450 100h1v1h-1zM450 110h1v1h-1zM450 120h1v1h-1zM450 130h1v1h-1zM450 140h1v1h-1zM450 150h1v1h-1zM450 160h1v1h-1zM450 170h1v1h-1zM450 180h1v1h-1zM450 190h1v1h-1zM450 194h1v1h-1zM450 196h1v1h-1zM450 198h1v1h-1zM450 200h1v1h-1zM450 202h1v1h-1zM450 204h1v1h-1zM450 206h1v1h-1zM450 210h1v1h-1zM450 220h1v1h-1zM450 230h1v1h-1zM450 240h1v1h-1zM450 250h1v1h-1zM450 260h1v1h-1zM450 270h1v1h-1zM450 280h1v1h-1zM450 290h1v1h-1zM450 300h1v1h-1zM450 310h1v1h-1zM450 320h1v1h-1zM450 330h1v1h-1zM450 340h1v1h-1zM450 350h1v1h-1zM450 360h1v1h-1zM450 370h1v1h-1zM450 380h1v1h-1zM450 390h1v1h-1zM450 395h1v1h-1zM450 397h1v1h-1zM450 399h1v1h-1zM465 0h1v1h-1zM465 2h1v1h-1zM465 50h1v1h-1zM465 100h1v1h-1zM465 150h1v1h-1zM465 197h1v1h-1zM465 199h1v1h-1zM465 201h1v1h-1zM465 203h1v1h-1zM465 250h1v1h-1zM465 300h1v1h-1zM465 350h1v1h-1zM465 398h1v1h-1zM465 400h1v1h-1zM480 0h1v1h-1zM480 2h1v1h-1zM480 50h1v1h-1zM480 100h1v1h-1zM480 150h1v1h-1zM480 197h1v1h-1zM480 199h1v1h-1zM480 201h1v1h-1zM480 203h1v1h-1zM480 250h1v1h-1zM480 300h1v1h-1zM480 350h1v1h-1zM480 398h1v1h-1zM480 400h1v1h-1zM495 0h1v1h-1zM495 2h1v1h-1zM495 50h1v1h-1zM495 100h1v1h-1zM495 150h1v1h-1zM495 197h1v1h-1zM495 199h1v1h-1zM495 201h1v1h-1zM495 203h1v1h-1zM495 250h1v1h-1zM495 300h1v1h-1zM495 350h1v1h-1zM495 398h1v1h-1zM495 400h1v1h-1zM510 0h1v1h-1zM510 2h1v1h-1zM510 50h1v1h-1zM510 100h1v1h-1zM510 150h1v1h-1zM510 197h1v1h-1zM510 199h1v1h-1zM510 201h1v1h-1zM510 203h1v1h-1zM510 250h1v1h-1zM510 300h1v1h-1zM510 350h1v1h-1zM510 398h1v1h-1zM510 400h1v1h-1zM525 1h1v1h-1zM525 3h1v1h-1zM525 5h1v1h-1zM525 10h1v1h-1zM525 20h1v1h-1zM525 30h1v1h-1zM525 40h1v1h-1zM525 50h1v1h-1zM525 60h1v1h-1zM525 70h1v1h-1zM525 80h1v1h-1zM525 90h1v1h-1zM525 100h1v1h-1zM525 110h1v1h-1zM525 120h1v1h-1zM525 130h1v1h-1zM525 140h1v1h-1zM525 150h1v1h-1zM525 160h1v1h-1zM525 170h1v1h-1zM525 180h1v1h-1zM525 190h1v1h-1zM525 194h1v1h-1zM525 196h1v1h-1zM525 198h1v1h-1zM525 200h1v1h-1zM525 202h1v1h-1zM525 204h1v1h-1zM525 206h1v1h-1zM525 210h1v1h-1zM525 220h1v1h-1zM525 230h1v1h-1zM525 240h1v1h-1zM525 250h1v1h-1zM525 260h1v1h-1zM525 270h1v1h-1zM525 280h1v1h-1zM525 290h1v1h-1zM525 300h1v1h-1zM525 310h1v1h-1zM525 320h1v1h-1zM525 330h1v1h-1zM525 340h1v1h-1zM525 350h1v1h-1zM525 360h1v1h-1zM525 370h1v1h-1zM525 380h1v1h-1zM525 390h1v1h-1zM525 395h1v1h-1zM525 397h1v1h-1zM525 399h1v1h-1zM540 0h1v1h-1zM540 2h1v1h-1zM540 50h1v1h-1zM540 100h1v1h-1zM540 150h1v1h-1zM540 197h1v1h-1zM540 199h1v1h-1zM540 201h1v1h-1zM540 203h1v1h-1zM540 250h1v1h-1zM540 300h1v1h-1zM540 350h1v1h-1zM540 398h1v1h-1zM540 400h1v1h-1zM555 0h1v1h-1zM555 2h1v1h-1zM555 50h1v1h-1zM555 100h1v1h-1zM555 150h1v1h-1zM555 197h1v1h-1zM555 199h1v1h-1zM555 201h1v1h-1zM555 203h1v1h-1zM555 250h1v1h-1zM555 300h1v1h-1zM555 350h1v1h-1zM555 398h1v1h-1zM555 400h1v1h-1zM570 0h1v1h-1zM570 2h1v1h-1zM570 50h1v1h-1zM570 100h1v1h-1zM570 150h1v1h-1zM570 197h1v1h-1zM570 199h1v1h-1zM570 201h1v1h-1zM570 203h1v1h-1zM570 250h1v1h-1zM570 300h1v1h-1zM570 350h1v1h-1zM570 398h1v1h-1zM570 400h1v1h-1zM585 0h1v1h-1zM585 2h1v1h-1zM585 50h1v1h-1zM585 100h1v1h-1zM585 150h1v1h-1zM585 197h1v1h-1zM585 199h1v1h-1zM585 201h1v1h-1zM585 203h1v1h-1zM585 250h1v1h-1zM585 300h1v1h-1zM585 350h1v1h-1zM585 398h1v1h-1zM585 400h1v1h-1zM600 1h1v1h-1zM600 3h1v1h-1zM600 5h1v1h-1zM600 10h1v1h-1zM600 20h1v1h-1zM600 30h1v1h-1zM600 40h1v1h-1zM600 50h1v1h-1zM600 60h1v1h-1zM600 70h1v1h-1zM600 80h1v1h-1zM600 90h1v1h-1zM600 100h1v1h-1zM600 110h1v1h-1zM600 120h1v1h-1zM600 130h1v1h-1zM600 140h1v1h-1zM600 150h1v1h-1zM600 160h1v1h-1zM600 170h1v1h-1zM600 180h1v1h-1zM600 190h1v1h-1zM600 194h1v1h-1zM600 196h1v1h-1zM600 198h1v1h-1zM600 200h1v1h-1zM600 202h1v1h-1zM600 204h1v1h-1zM600 206h1v1h-1zM600 210h1v1h-1zM600 220h1v1h-1zM600 230h1v1h-1zM600 240h1v1h-1zM600 250h1v1h-1zM600 260h1v1h-1zM600 270h1v1h-1zM600 280h1v1h-1zM600 290h1v1h-1zM600 300h1v1h-1zM600 310h1v1h-1zM600 320h1v1h-1zM600 330h1v1h-1zM600 340h1v1h-1zM600 350h1v1h-1zM600 360h1v1h-1zM600 370h1v1h-1zM600 380h1v1h-1zM600 390h1v1h-1zM600 395h1v1h-1zM600 397h1v1h-1zM600 399h1v1h-1zM615 0h1v1h-1zM615 2h1v1h-1zM615 50h1v1h-1zM615 100h1v1h-1zM615 150h1v1h-1zM615 197h1v1h-1zM615 199h1v1h-1zM615 201h1v1h-1zM615 203h1v1h-1zM615 250h1v1h-1zM615 300h1v1h-1zM615 350h1v1h-1zM615 398h1v1h-1zM615 400h1v1h-1zM630 0h1v1h-1zM630 2h1v1h-1zM630 50h1v1h-1zM630 100h1v1h-1zM630 150h1v1h-1zM630 197h1v1h-1zM630 199h1v1h-1zM630 201h1v1h-1zM630 203h1v1h-1zM630 250h1v1h-1zM630 300h1v1h-1zM630 350h1v1h-1zM630 398h1v1h-1zM630 400h1v1h-1zM645 0h1v1h-1zM645 2h1v1h-1zM645 50h1v1h-1zM645 100h1v1h-1zM645 150h1v1h-1zM645 197h1v1h-1zM645 199h1v1h-1zM645 201h1v1h-1zM645 203h1v1h-1zM645 250h1v1h-1zM645 300h1v1h-1zM645 350h1v1h-1zM645 398h1v1h-1zM645 400h1v1h-1zM660 0h1v1h-1zM660 2h1v1h-1zM660 50h1v1h-1zM660 100h1v1h-1zM660 150h1v1h-1zM660 197h1v1h-1zM660 199h1v1h-1zM660 201h1v1h-1zM660 203h1v1h-1zM660 250h1v1h-1zM660 300h1v1h-1zM660 350h1v1h-1zM660 398h1v1h-1zM660 400h1v1h-1zM675 1h1v1h-1zM675 3h1v1h-1zM675 5h1v1h-1zM675 10h1v1h-1zM675 20h1v1h-1zM675 30h1v1h-1zM675 40h1v1h-1zM675 50h1v1h-1zM675 60h1v1h-1zM675 70h1v1h-1zM675 80h1v1h-1zM675 90h1v1h-1zM675 100h1v1h-1zM675 110h1v1h-1zM675 120h1v1h-1zM675 130h1v1h-1zM675 140h1v1h-1zM675 150h1v1h-1zM675 160h1v1h-1zM675 170h1v1h-1zM675 180h1v1h-1zM675 190h1v1h-1zM675 194h1v1h-1zM675 196h1v1h-1zM675 198h1v1h-1zM675 200h1v1h-1zM675 202h1v1h-1zM675 204h1v1h-1zM675 206h1v1h-1zM675 210h1v1h-1zM675 220h1v1h-1zM675 230h1v1h-1zM675 240h1v1h-1zM675 250h1v1h-1zM675 260h1v1h-1zM675 270h1v1h-1zM675 280h1v1h-1zM675 290h1v1h-1zM675 300h1v1h-1zM675 310h1v1h-1zM675 320h1v1h-1zM675 330h1v1h-1zM675 340h1v1h-1zM675 350h1v1h-1zM675 360h1v1h-1zM675 370h1v1h-1zM675 380h1v1h-1zM675 390h1v1h-1zM675 395h1v1h-1zM675 397h1v1h-1zM675 399h1v1h-1zM690 0h1v1h-1zM690 2h1v1h-1zM690 50h1v1h-1zM690 100h1v1h-1zM690 150h1v1h-1zM690 197h1v1h-1zM690 199h1v1h-1zM690 201h1v1h-1zM690 203h1v1h-1zM690 250h1v1h-1zM690 300h1v1h-1zM690 350h1v1h-1zM690 398h1v1h-1zM690 400h1v1h-1zM705 0h1v1h-1zM705 2h1v1h-1zM705 50h1v1h-1zM705 100h1v1h-1zM705 150h1v1h-1zM705 197h1v1h-1zM705 199h1v1h-1zM705 201h1v1h-1zM705 203h1v1h-1zM705 250h1v1h-1zM705 300h1v1h-1zM705 350h1v1h-1zM705 398h1v1h-1zM705 400h1v1h-1zM720 0h1v1h-1zM720 2h1v1h-1zM720 50h1v1h-1zM720 100h1v1h-1zM720 150h1v1h-1zM720 197h1v1h-1zM720 199h1v1h-1zM720 201h1v1h-1zM720 203h1v1h-1zM720 250h1v1h-1zM720 300h1v1h-1zM720 350h1v1h-1zM720 398h1v1h-1zM720 400h1v1h-1zM735 0h1v1h-1zM735 2h1v1h-1zM735 50h1v1h-1zM735 100h1v1h-1zM735 150h1v1h-1zM735 197h1v1h-1zM735 199h1v1h-1zM735 201h1v1h-1zM735 203h1v1h-1zM735 250h1v1h-1zM735 300h1v1h-1zM735 350h1v1h-1zM735 398h1v1h-1zM735 400h1v1h-1zM744 50h1v1h-1zM744 100h1v1h-1zM744 150h1v1h-1zM744 250h1v1h-1zM744 300h1v1h-1zM744 350h1v1h-1zM746 50h1v1h-1zM746 100h1v1h-1zM746 150h1v1h-1zM746 250h1v1h-1zM746 300h1v1h-1zM746 350h1v1h-1zM747 10h1v1h-1zM747 20h1v1h-1zM747 30h1v1h-1zM747 40h1v1h-1zM747 60h1v1h-1zM747 70h1v1h-1zM747 80h1v1h-1zM747 90h1v1h-1zM747 110h1v1h-1zM747 120h1v1h-1zM747 130h1v1h-1zM747 140h1v1h-1zM747 160h1v1h-1zM747 170h1v1h-1zM747 180h1v1h-1zM747 190h1v1h-1zM747 210h1v1h-1zM747 220h1v1h-1zM747 230h1v1h-1zM747 240h1v1h-1zM747 260h1v1h-1zM747 270h1v1h-1zM747 280h1v1h-1zM747 290h1v1h-1zM747 310h1v1h-1zM747 320h1v1h-1zM747 330h1v1h-1zM747 340h1v1h-1zM747 360h1v1h-1zM747 370h1v1h-1zM747 380h1v1h-1zM747 390h1v1h-1zM748 50h1v1h-1zM748 100h1v1h-1zM748 150h1v1h-1zM748 250h1v1h-1zM748 300h1v1h-1zM748 350h1v1h-1zM749 10h1v1h-1zM749 20h1v1h-1zM749 30h1v1h-1zM749 40h1v1h-1zM749 60h1v1h-1zM749 70h1v1h-1zM749 80h1v1h-1zM749 90h1v1h-1zM749 110h1v1h-1zM749 120h1v1h-1zM749 130h1v1h-1zM749 140h1v1h-1zM749 160h1v1h-1zM749 170h1v1h-1zM749 180h1v1h-1zM749 190h1v1h-1zM749 210h1v1h-1zM749 220h1v1h-1zM749 230h1v1h-1zM749 240h1v1h-1zM749 260h1v1h-1zM749 270h1v1h-1zM749 280h1v1h-1zM749 290h1v1h-1zM749 310h1v1h-1zM749 320h1v1h-1zM749 330h1v1h-1zM749 340h1v1h-1zM749 360h1v1h-1zM749 370h1v1h-1zM749 380h1v1h-1zM749 390h1v1h-1z"/>
</g>
<text transform="translate(0,47.92) scale(1.0000,1.0618)" x="17.08 39.97 61.49" y="0" style="font-family:'Liberation Serif',serif;font-size:43.5px;fill:#0a0800;font-weight:bold;stroke:#0a0800;stroke-width:0.9;stroke-linejoin:round;">Tek</text>
<text transform="translate(0,43.90) scale(1.0000,1.0000)" x="96.01 121.28 142.18 156.73 177.78 202.41" y="0" style="font-family:'DejaVu Sans',sans-serif;font-size:31.5px;fill:#0a0800;stroke:#0a0800;stroke-width:1.3;stroke-linejoin:round;">Deten.</text>
<rect x="552" y="30.4" width="707.8" height="2.6" fill="#a800a8"/>
<rect x="534" y="26" width="18" height="25" fill="#ff9900"/>
<text transform="translate(0,48.50) scale(0.7442,1.0816)" x="721.47" y="0" style="font-family:'DejaVu Sans',sans-serif;font-size:26px;fill:#fff;font-weight:bold;">T</text>
<rect x="534.5" y="26.2" width="2" height="2" fill="#111"/>
<rect x="549.5" y="26.2" width="2" height="2" fill="#111"/>
<rect x="534.5" y="48.8" width="2" height="2" fill="#111"/>
<rect x="549.5" y="48.8" width="2" height="2" fill="#111"/>
<path fill="#ff9900" d="M888 17.5H904L896 26.5z"/>
<path fill="#ff9900" d="M884 53H908L896 66z"/>
<path fill="#ff9900" d="M81.5 68.2H103.2Q105.6 68.2 105.6 70.6V94.5L92.3 101.6L79 94.5V70.6Q79 68.2 81.5 68.2z"/>
<text transform="translate(0,94.80) scale(1.0964,1.1065)" x="74.00" y="0" style="font-family:'DejaVu Sans',sans-serif;font-size:30px;fill:#fff;font-weight:bold;">T</text>
<path fill="#a000a0" d="M19.1 265.5L21.5 263.3H48.2L61.3 281.3L48.2 298.1H19.1z"/>
<path fill="none" stroke="#2a2a2a" stroke-width="1.6" stroke-dasharray="2.2 1.8" d="M46.2 299.4L55.2 289.2"/>
<rect x="23.8" y="298.2" width="2.2" height="2.2" fill="#2a2a2a"/>
<text transform="translate(0,292.66) scale(1.0063,1.0086)" x="26.24" y="0" style="font-family:'DejaVu Sans',sans-serif;font-size:30px;fill:#fff;stroke:#fff;stroke-width:1.6;stroke-linejoin:round;">3</text>
<path fill="#fff" stroke="#0000ff" stroke-width="2.6" stroke-linejoin="round" d="M20.6 919.4H48L61.8 936L48 953.3H20.6z"/>
<path fill="none" stroke="#d2d278" stroke-width="2.8" d="M22 919.4H48L61.8 936L53 947.2"/>
<path fill="none" stroke="#111" stroke-width="1.4" d="M22.6 922V951"/>
<text transform="translate(0,947.92) scale(0.9662,0.9700)" x="27.61" y="0" style="font-family:'DejaVu Sans',sans-serif;font-size:33px;fill:#1818ff;stroke:#1818ff;stroke-width:1.2;stroke-linejoin:round;">1</text>
<path fill="#a000a0" d="M1699.7 394.4L1712.7 382.2V406.6z"/>
<rect x="1712" y="393.2" width="12" height="2.4" fill="#a000a0"/>
<rect x="408" y="497.3" width="275" height="72.8" fill="#fff"/>
<rect x="1198" y="619" width="66" height="73.4" fill="#fff"/>
<rect x="1278" y="626" width="240" height="73.4" fill="#fff"/>
<text transform="translate(0,240.48) scale(1.1135,1.0108)" x="965.60 1012.67" y="0" style="font-family:'Liberation Serif',serif;font-size:70px;fill:#ff00ff;stroke:#fff;stroke-width:0.3;stroke-linejoin:round;">Vo</text>
<text transform="translate(0,236.15) scale(1.2115,0.8779)" x="972.32" y="0" style="font-family:'Liberation Serif',serif;font-size:70px;fill:#ff00ff;stroke:#fff;stroke-width:0.3;stroke-linejoin:round;">=</text>
<text transform="translate(0,241.05) scale(0.9364,1.0229)" x="1323.29 1363.60 1401.40" y="0" style="font-family:'Liberation Serif',serif;font-size:70px;fill:#ff00ff;stroke:#fff;stroke-width:0.3;stroke-linejoin:round;">380</text>
<text transform="translate(0,240.48) scale(1.0189,1.0108)" x="1337.75" y="0" style="font-family:'Liberation Serif',serif;font-size:70px;fill:#ff00ff;stroke:#fff;stroke-width:0.3;stroke-linejoin:round;">V</text>
<text transform="translate(0,590.00) scale(0.9773,1.0179)" x="915.56 953.04 989.62" y="0" style="font-family:'Liberation Serif',serif;font-size:70px;fill:#000;">400</text>
<text transform="translate(0,590.14) scale(0.9569,0.9691)" x="1061.35 1098.16" y="0" style="font-family:'Liberation Serif',serif;font-size:70px;fill:#000;">us</text>
<line x1="898" y1="611" x2="1070.5" y2="611" stroke="#000" stroke-width="11" stroke-linecap="round"/>
<text transform="translate(0,550.06) scale(0.9177,1.0335)" x="454.87" y="0" style="font-family:'Liberation Serif',serif;font-size:72px;fill:#0000ff;font-style:italic;stroke:#fff;stroke-width:0.7;stroke-linejoin:round;">I</text>
<text transform="translate(0,561.16) scale(0.8471,1.0426)" x="524.65" y="0" style="font-family:'Liberation Serif',serif;font-size:56px;fill:#0000ff;font-style:italic;stroke:#fff;stroke-width:0.7;stroke-linejoin:round;">L</text>
<text transform="translate(0,556.67) scale(1.4480,0.9942)" x="340.19" y="0" style="font-family:'Liberation Serif',serif;font-size:72px;fill:#0000ff;stroke:#fff;stroke-width:0.7;stroke-linejoin:round;">=</text>
<text transform="translate(0,550.25) scale(1.0317,1.0032)" x="547.97" y="0" style="font-family:'Liberation Serif',serif;font-size:72px;fill:#0000ff;stroke:#fff;stroke-width:0.7;stroke-linejoin:round;">5</text>
<text transform="translate(0,550.26) scale(0.9827,1.0292)" x="625.58" y="0" style="font-family:'Liberation Serif',serif;font-size:72px;fill:#0000ff;stroke:#fff;stroke-width:0.7;stroke-linejoin:round;">A</text>
<text transform="translate(0,672.37) scale(0.8949,1.0507)" x="1348.62" y="0" style="font-family:'Liberation Serif',serif;font-size:72px;fill:#0000ff;font-style:italic;stroke:#fff;stroke-width:0.7;stroke-linejoin:round;">I</text>
<text transform="translate(0,683.06) scale(0.8964,1.0343)" x="1375.31" y="0" style="font-family:'Liberation Serif',serif;font-size:56px;fill:#0000ff;font-style:italic;stroke:#fff;stroke-width:0.7;stroke-linejoin:round;">L</text>
<text transform="translate(0,677.67) scale(1.4541,0.9942)" x="881.36" y="0" style="font-family:'Liberation Serif',serif;font-size:72px;fill:#0000ff;stroke:#fff;stroke-width:0.7;stroke-linejoin:round;">=</text>
<text transform="translate(0,679.35) scale(1.0404,1.0070)" x="1306.41 1341.78 1357.57" y="0" style="font-family:'Liberation Serif',serif;font-size:72px;fill:#0000ff;stroke:#fff;stroke-width:0.7;stroke-linejoin:round;">2.5</text>
<text transform="translate(0,679.35) scale(0.9787,1.0100)" x="1492.74" y="0" style="font-family:'Liberation Serif',serif;font-size:72px;fill:#0000ff;stroke:#fff;stroke-width:0.7;stroke-linejoin:round;">A</text>
<rect x="64.35" y="944.95" width="709.2" height="84.1" rx="11" ry="11" fill="none" stroke="#080808" stroke-width="1.9"/>
<rect x="780.95" y="944.95" width="749.7" height="84.1" rx="11" ry="11" fill="none" stroke="#080808" stroke-width="1.9"/>
<rect x="1537.05" y="944.95" width="245.7" height="84.1" rx="11" ry="11" fill="none" stroke="#080808" stroke-width="1.9"/>
<rect x="76.7" y="950.5" width="55.3" height="35.4" rx="14.5" ry="17.7" fill="#1818ff"/>
<rect x="76.7" y="990.3" width="55.3" height="35.6" rx="14.5" ry="17.8" fill="#a000a0"/>
<text transform="translate(0,978.52) scale(1.0349,0.9769)" x="91.64" y="0" style="font-family:'DejaVu Sans',sans-serif;font-size:31.5px;fill:#0a0800;stroke:#0a0800;stroke-width:1.4;stroke-linejoin:round;">1</text>
<text transform="translate(0,1019.00) scale(1.0000,1.0000)" x="94.24" y="0" style="font-family:'DejaVu Sans',sans-serif;font-size:31.5px;fill:#0a0800;stroke:#0a0800;stroke-width:1.3;stroke-linejoin:round;">3</text>
<text transform="translate(0,979.00) scale(1.0000,1.0000)" x="170.20 191.51 205.99 226.99" y="0" style="font-family:'DejaVu Sans',sans-serif;font-size:31.5px;fill:#1818ff;stroke:#1818ff;stroke-width:0.7;stroke-linejoin:round;">2.00</text>
<text transform="translate(0,979.00) scale(1.0000,1.0000)" x="260.73" y="0" style="font-family:'DejaVu Sans',sans-serif;font-size:31.5px;fill:#1818ff;stroke:#1818ff;stroke-width:0.7;stroke-linejoin:round;">A</text>
<text transform="translate(0,1019.00) scale(1.0000,1.0000)" x="169.94 191.51 205.99 226.99" y="0" style="font-family:'DejaVu Sans',sans-serif;font-size:31.5px;fill:#a000a0;stroke:#a000a0;stroke-width:0.7;stroke-linejoin:round;">5.00</text>
<text transform="translate(0,1019.00) scale(1.0000,1.0000)" x="259.73" y="0" style="font-family:'DejaVu Sans',sans-serif;font-size:31.5px;fill:#a000a0;stroke:#a000a0;stroke-width:0.7;stroke-linejoin:round;">V</text>
<text transform="translate(0,969.85) scale(0.8081,1.0081)" x="415.69" y="0" style="font-family:'DejaVu Sans',sans-serif;font-size:20px;fill:#1818ff;stroke:#1818ff;stroke-width:0.3;stroke-linejoin:round;">B</text>
<text transform="translate(0,978.86) scale(0.6131,0.9409)" x="565.46" y="0" style="font-family:'DejaVu Sans',sans-serif;font-size:20px;fill:#1818ff;stroke:#1818ff;stroke-width:0.3;stroke-linejoin:round;">W</text>
<text transform="translate(0,1020.66) scale(1.1447,1.3577)" x="266.34" y="0" style="font-family:'DejaVu Sans',sans-serif;font-size:31.5px;fill:#a000a0;stroke:#fff;stroke-width:0.5;stroke-linejoin:round;">∿</text>
<text transform="translate(0,979.00) scale(1.0000,1.0000)" x="791.89 815.34 837.54 860.58 884.61" y="0" style="font-family:'DejaVu Sans',sans-serif;font-size:31.5px;fill:#0a0800;stroke:#0a0800;stroke-width:1.3;stroke-linejoin:round;">400µs</text>
<rect x="790.8" y="993" width="26.5" height="28.4" rx="2.5" fill="#ff9900"/>
<text transform="translate(0,1019.40) scale(1.1014,1.0654)" x="719.76" y="0" style="font-family:'DejaVu Sans',sans-serif;font-size:30px;fill:#fff;font-weight:bold;">T</text>
<text transform="translate(0,1018.43) scale(0.8455,1.1369)" x="967.92" y="0" style="font-family:'DejaVu Sans',sans-serif;font-size:31.5px;fill:#ff9900;stroke:#ff9900;stroke-width:0.6;stroke-linejoin:round;">→</text>
<text transform="translate(0,1010.78) scale(1.0150,0.5722)" x="829.30" y="0" style="font-family:'DejaVu Sans',sans-serif;font-size:31.5px;fill:#ff9900;">▼</text>
<text transform="translate(0,1019.00) scale(1.0000,1.0000)" x="869.20 889.66 903.64 926.54 948.04 970.37 992.49 1013.07 1045.21" y="0" style="font-family:'DejaVu Sans',sans-serif;font-size:31.5px;fill:#ff9900;stroke:#ff9900;stroke-width:1.3;stroke-linejoin:round;">1.93360ms</text>
<text transform="translate(0,979.00) scale(1.0000,1.0000)" x="1098.40 1119.66 1133.69 1155.79 1178.65 1211.75 1246.44 1262.61" y="0" style="font-family:'DejaVu Sans',sans-serif;font-size:31.5px;fill:#0a0800;stroke:#0a0800;stroke-width:1.3;stroke-linejoin:round;">2.50MM/s</text>
<text transform="translate(0,1019.00) scale(1.0000,1.0000)" x="1099.00 1120.19 1142.84" y="0" style="font-family:'DejaVu Sans',sans-serif;font-size:31.5px;fill:#0a0800;stroke:#0a0800;stroke-width:1.3;stroke-linejoin:round;">10k</text>
<text transform="translate(0,1019.00) scale(1.0000,1.0000)" x="1176.08 1199.33 1213.71 1232.56" y="0" style="font-family:'DejaVu Sans',sans-serif;font-size:31.5px;fill:#0a0800;stroke:#0a0800;stroke-width:1.3;stroke-linejoin:round;">pts.</text>
<rect x="1380.9" y="950.5" width="55.5" height="35.4" rx="14.5" ry="17.7" fill="#a000a0"/>
<text transform="translate(0,979.00) scale(1.0000,1.0000)" x="1398.94" y="0" style="font-family:'DejaVu Sans',sans-serif;font-size:31.5px;fill:#0a0800;stroke:#0a0800;stroke-width:1.3;stroke-linejoin:round;">3</text>
<path fill="none" stroke="#0a0800" stroke-width="4" d="M1467.6 977.2H1478L1484.6 957.2H1493.8"/>
<text transform="translate(0,1019.00) scale(1.0000,1.0000)" x="1368.80 1396.59 1418.36 1432.60 1454.19" y="0" style="font-family:'DejaVu Sans',sans-serif;font-size:31.5px;fill:#0a0800;stroke:#0a0800;stroke-width:1.3;stroke-linejoin:round;">−5.10</text>
<text transform="translate(0,1019.00) scale(1.0000,1.0000)" x="1486.33" y="0" style="font-family:'DejaVu Sans',sans-serif;font-size:31.5px;fill:#0a0800;stroke:#0a0800;stroke-width:1.3;stroke-linejoin:round;">V</text>
<text transform="translate(0,979.00) scale(1.0000,1.0000)" x="1568.77" y="0" style="font-family:'DejaVu Sans',sans-serif;font-size:31.5px;fill:#0a0800;stroke:#0a0800;stroke-width:1.3;stroke-linejoin:round;">6</text>
<text transform="translate(0,979.00) scale(1.0000,1.0000)" x="1602.22 1618.96 1642.83" y="0" style="font-family:'DejaVu Sans',sans-serif;font-size:31.5px;fill:#0a0800;stroke:#0a0800;stroke-width:1.3;stroke-linejoin:round;">Jun</text>
<text transform="translate(0,979.00) scale(1.0000,1.0000)" x="1686.60 1708.44 1731.30 1752.89" y="0" style="font-family:'DejaVu Sans',sans-serif;font-size:31.5px;fill:#0a0800;stroke:#0a0800;stroke-width:1.3;stroke-linejoin:round;">2018</text>
<text transform="translate(0,1019.00) scale(1.0000,1.0000)" x="1547.90 1569.09 1590.24 1604.85 1626.44 1647.84 1661.94 1683.99" y="0" style="font-family:'DejaVu Sans',sans-serif;font-size:31.5px;fill:#0a0800;stroke:#0a0800;stroke-width:1.3;stroke-linejoin:round;">10:23:58</text>
</svg></body></html>
